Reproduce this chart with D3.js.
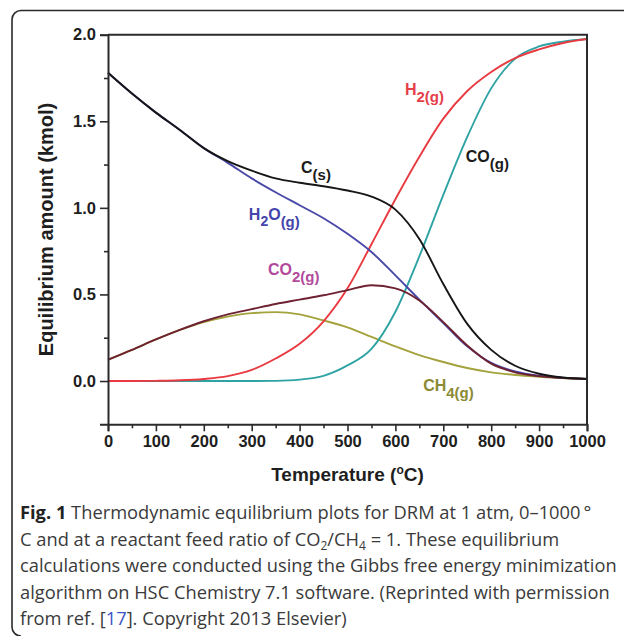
<!DOCTYPE html>
<html>
<head>
<meta charset="utf-8">
<script src="https://cdn.jsdelivr.net/npm/d3@7"></script>
<style>
  html, body { margin: 0; padding: 0; background: #fff; }
  svg { display: block; }
</style>
</head>
<body>
<svg id="fig" width="624" height="636"></svg>
<script>
// Temperature grid (°C) and equilibrium amounts (kmol) for each species
const temps   = [0, 50, 100, 150, 200, 250, 300, 350, 400, 450, 500, 550, 600, 650, 700, 750, 800, 850, 900, 950, 1000];
const cSolid  = [1.78, 1.66, 1.55, 1.45, 1.345, 1.27, 1.215, 1.17, 1.145, 1.125, 1.10, 1.065, 0.99, 0.82, 0.56, 0.33, 0.18, 0.088, 0.042, 0.02, 0.012];
const h2o     = [1.78, 1.66, 1.55, 1.45, 1.345, 1.26, 1.17, 1.09, 1.015, 0.94, 0.85, 0.745, 0.61, 0.47, 0.335, 0.2, 0.105, 0.055, 0.03, 0.018, 0.012];
const co2     = [0.123, 0.18, 0.24, 0.295, 0.345, 0.385, 0.415, 0.445, 0.47, 0.495, 0.525, 0.553, 0.535, 0.465, 0.34, 0.205, 0.10, 0.05, 0.028, 0.017, 0.012];
const ch4     = [0.123, 0.18, 0.24, 0.295, 0.34, 0.372, 0.392, 0.398, 0.385, 0.35, 0.31, 0.255, 0.20, 0.15, 0.11, 0.075, 0.05, 0.035, 0.025, 0.017, 0.012];
const h2      = [0, 0, 0.001, 0.004, 0.012, 0.028, 0.064, 0.13, 0.215, 0.345, 0.535, 0.79, 1.05, 1.295, 1.515, 1.675, 1.785, 1.865, 1.915, 1.952, 1.975];
const co      = [0, 0, 0, 0, 0, 0, 0, 0.001, 0.008, 0.03, 0.09, 0.185, 0.40, 0.72, 1.075, 1.41, 1.69, 1.862, 1.932, 1.96, 1.975];

// Axis ticks
const xTicks = [0, 100, 200, 300, 400, 500, 600, 700, 800, 900, 1000];
const yTicks = [0.0, 0.5, 1.0, 1.5, 2.0];

// Series drawing order and colours
const series = [
  { name: "CH4", values: ch4,    color: "#a3a23c" },
  { name: "CO",  values: co,     color: "#2fa3a3" },
  { name: "H2",  values: h2,     color: "#e83a40" },
  { name: "H2O", values: h2o,    color: "#4848a8" },
  { name: "CO2", values: co2,    color: "#6e2231" },
  { name: "C",   values: cSolid, color: "#161616" }
];

// Curve labels, anchored in data units (temperature, amount)
const labels = [
  { base: "C",  sub: "(s)",  t: 403, v: 1.20,  color: "#1b1b1b" },
  { base: "H",  mid: "2", tail: "O", sub: "(g)", t: 294, v: 0.93, color: "#4444aa" },
  { base: "CO", sub: "2(g)", t: 334, v: 0.614, color: "#b24a9c" },
  { base: "H",  sub: "2(g)", t: 620, v: 1.653, color: "#e5404a" },
  { base: "CO", sub: "(g)",  t: 747, v: 1.266, color: "#1b1b1b" },
  { base: "CH", sub: "4(g)", t: 658, v: -0.06, color: "#8c8a34" }
];

const svg = d3.select("#fig");

// Panel frame (open on the right, rounded left corners)
svg.append("path")
  .attr("d", "M624,10.5 H21 A9,9 0 0 0 12,19.5 V627 A9,9 0 0 0 21,636")
  .attr("fill", "none")
  .attr("stroke", "#2a2a2a")
  .attr("stroke-width", 1.6);

const x = d3.scaleLinear().domain([0, 1000]).range([108, 587]);
const y = d3.scaleLinear().domain([-0.25, 2.0]).range([424.3, 34.7]);

const axisColor = "#2b2b2b";
const tickFont = "'Liberation Sans', Arial, sans-serif";

// Curves
const line = d3.line()
  .x((d, i) => x(temps[i]))
  .y(d => y(d))
  .curve(d3.curveMonotoneX);

svg.append("g").selectAll("path")
  .data(series)
  .join("path")
  .attr("d", d => line(d.values))
  .attr("fill", "none")
  .attr("stroke", d => d.color)
  .attr("stroke-width", 1.9)
  .attr("stroke-linejoin", "round");

// Minor ticks
const xMinor = d3.range(50, 1000, 100);
const yMinor = [0.25, 0.75, 1.25, 1.75];

const xAxisG = svg.append("g").attr("transform", `translate(0,${y(-0.25)})`);
xAxisG.call(d3.axisBottom(x).tickValues(xTicks).tickSize(7).tickPadding(4).tickFormat(d3.format("d")));
xAxisG.append("g").call(d3.axisBottom(x).tickValues(xMinor).tickSize(4).tickFormat(""))
  .select(".domain").remove();

const yAxisG = svg.append("g").attr("transform", `translate(${x(0)},0)`);
yAxisG.call(d3.axisLeft(y).tickValues(yTicks).tickSize(8).tickPadding(4).tickFormat(d3.format(".1f")));
yAxisG.append("g").call(d3.axisLeft(y).tickValues(yMinor).tickSize(4).tickFormat(""))
  .select(".domain").remove();

svg.selectAll(".domain").attr("stroke", axisColor).attr("stroke-width", 2);
svg.selectAll(".tick line").attr("stroke", axisColor).attr("stroke-width", 1.6);
svg.selectAll(".tick text")
  .attr("fill", "#1e1e1e")
  .style("font-family", tickFont)
  .style("font-weight", "bold")
  .style("font-size", "16.5px");

// Top and right frame of the plot
svg.append("path")
  .attr("d", `M${x(0)},${y(2.0)} H${x(1000)} V${y(-0.25)}`)
  .attr("fill", "none")
  .attr("stroke", axisColor)
  .attr("stroke-width", 2);

// Axis titles
const ttl = svg.append("text")
  .attr("x", (x(0) + x(1000)) / 2)
  .attr("y", 481)
  .attr("text-anchor", "middle")
  .attr("fill", "#1e1e1e")
  .style("font-family", tickFont)
  .style("font-weight", "bold")
  .style("font-size", "19px");
ttl.append("tspan").text("Temperature (");
ttl.append("tspan").attr("dy", -7).style("font-size", "12px").text("o");
ttl.append("tspan").attr("dy", 7).text("C)");

svg.append("text")
  .attr("transform", `translate(53,${(y(-0.25) + y(2.0)) / 2}) rotate(-90)`)
  .attr("text-anchor", "middle")
  .attr("fill", "#1e1e1e")
  .style("font-family", tickFont)
  .style("font-weight", "bold")
  .style("font-size", "20px")
  .text("Equilibrium amount (kmol)");

// Species labels with subscripts
labels.forEach(l => {
  const t = svg.append("text")
    .attr("x", x(l.t))
    .attr("y", y(l.v))
    .attr("fill", l.color)
    .style("font-family", tickFont)
    .style("font-weight", "bold")
    .style("font-size", "16px");
  t.append("tspan").text(l.base);
  if (l.mid) {
    t.append("tspan").attr("dy", 6).style("font-size", "14px").text(l.mid);
    t.append("tspan").attr("dy", -6).text(l.tail);
  }
  t.append("tspan").attr("dy", 7).style("font-size", "15px").text(l.sub);
});

// Caption
const capFont = "'Open Sans', 'Noto Sans', sans-serif";
const capLines = [
  [{ t: "Fig. 1", b: true }, { t: " Thermodynamic equilibrium plots for DRM at 1 atm, 0\u20131000\u2009\u00b0" }],
  [{ t: "C and at a reactant feed ratio of CO" }, { t: "2", s: true }, { t: "/CH" }, { t: "4", s: true }, { t: " = 1. These equilibrium" }],
  [{ t: "calculations were conducted using the Gibbs free energy minimization" }],
  [{ t: "algorithm on HSC Chemistry 7.1 software. (Reprinted with permission" }],
  [{ t: "from ref. [" }, { t: "17", link: true }, { t: "]. Copyright 2013 Elsevier)" }]
];
capLines.forEach((parts, i) => {
  const t = svg.append("text")
    .attr("x", 20)
    .attr("y", 519 + i * 26.5)
    .attr("fill", "#3a3a3a")
    .style("font-family", capFont)
    .style("font-size", "18.3px");
  let shifted = false;
  parts.forEach(p => {
    const sp = t.append("tspan").text(p.t);
    if (p.b) sp.style("font-weight", "bold").attr("fill", "#222");
    if (p.link) sp.attr("fill", "#3a55c8");
    if (p.s) { sp.attr("dy", 4).style("font-size", "12px"); shifted = true; }
    else if (shifted) { sp.attr("dy", -4); shifted = false; }
  });
});
</script>
</body>
</html>
